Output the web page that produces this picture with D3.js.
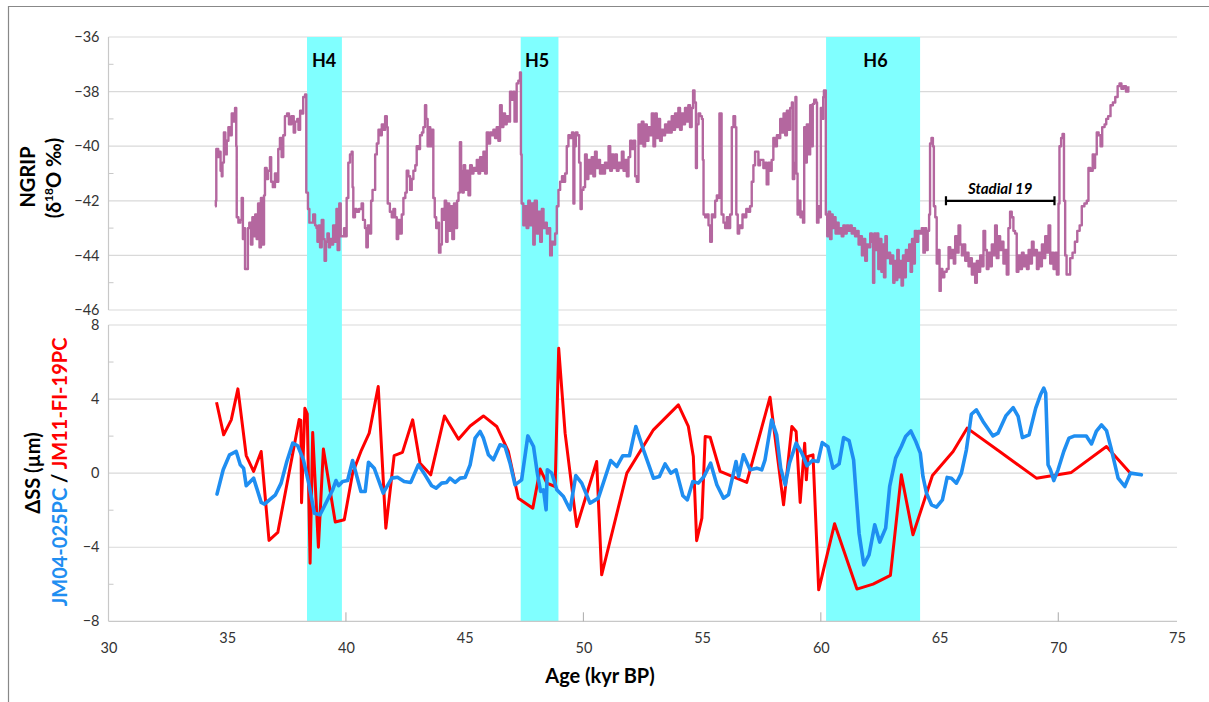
<!DOCTYPE html>
<html><head><meta charset="utf-8">
<script src="https://cdn.jsdelivr.net/npm/d3@7"></script>
<style>
body{margin:0;background:#fff}
svg{display:block;font-family:Lato,"Open Sans",sans-serif}
</style>
</head><body>
<svg id="chart" width="1209" height="702"></svg>
<script>
// ---------- data ----------
const xTickValues = [30,35,40,45,50,55,60,65,70,75];
const xMajorMarks = [40,50,60,70];
const topTickValues = [-36,-38,-40,-42,-44,-46];
const topMinorValues = [-37,-39,-41,-43,-45];
const botTickValues = [8,4,0,-4,-8];
const botMinorValues = [6,2,-2,-6];

const heinrichNames = ["H4","H5","H6"];
const heinrichStart = [38.36,47.36,60.22];
const heinrichEnd = [39.83,48.95,64.18];
const heinrichLabelAge = [39.08,48.05,62.3];

const stadialName = "Stadial 19";
const stadialRange = [65.27,69.84];
const stadialLevel = -42.0;

// NGRIP δ18O (‰) [age kyr BP, value]
const ngrip = [
[34.49,-42.2],[34.52,-42.0],[34.54,-40.1],[34.62,-40.4],[34.68,-40.2],[34.72,-40.9],[34.77,-41.1],[34.80,-40.6],[34.86,-39.5],[34.92,-40.3],[34.98,-39.8],[35.05,-39.3],[35.12,-39.6],[35.19,-38.8],[35.26,-39.1],[35.33,-38.6],[35.38,-40.0],[35.40,-42.6],[35.47,-42.8],[35.55,-42.7],[35.61,-41.9],[35.66,-43.4],[35.72,-43.0],[35.75,-44.5],[35.84,-44.5],[35.87,-43.0],[35.93,-42.8],[36.0,-43.6],[36.06,-42.6],[36.12,-43.3],[36.18,-42.5],[36.24,-43.4],[36.30,-42.1],[36.36,-43.7],[36.42,-41.9],[36.50,-43.6],[36.55,-41.8],[36.59,-40.8],[36.66,-41.2],[36.72,-40.9],[36.80,-40.4],[36.85,-41.3],[36.92,-41.5],[37.01,-41.0],[37.08,-41.3],[37.15,-40.1],[37.22,-39.7],[37.29,-40.4],[37.36,-39.6],[37.43,-38.9],[37.52,-38.8],[37.6,-39.2],[37.7,-38.9],[37.8,-39.5],[37.86,-39.1],[37.95,-39.0],[38.0,-39.4],[38.07,-38.7],[38.14,-38.8],[38.2,-38.2],[38.28,-38.1],[38.33,-41.7],[38.40,-42.3],[38.46,-42.8],[38.55,-42.8],[38.62,-42.5],[38.70,-42.9],[38.76,-43.0],[38.80,-43.5],[38.86,-42.9],[38.91,-43.7],[38.98,-42.7],[39.05,-43.4],[39.1,-44.2],[39.16,-43.5],[39.22,-43.2],[39.28,-43.7],[39.33,-43.4],[39.40,-43.6],[39.46,-42.9],[39.54,-43.5],[39.60,-42.3],[39.65,-43.8],[39.72,-42.1],[39.78,-43.3],[39.85,-43.3],[39.92,-43.0],[39.97,-43.3],[40.03,-41.9],[40.10,-40.6],[40.17,-40.3],[40.24,-40.2],[40.28,-41.5],[40.31,-42.6],[40.38,-42.3],[40.45,-42.4],[40.55,-42.3],[40.66,-42.1],[40.72,-42.7],[40.80,-43.0],[40.86,-43.7],[40.92,-42.9],[41.01,-43.2],[41.06,-42.0],[41.12,-41.6],[41.23,-40.3],[41.30,-39.9],[41.37,-39.4],[41.45,-39.6],[41.51,-39.2],[41.58,-39.4],[41.65,-38.9],[41.72,-39.3],[41.76,-42.1],[41.85,-42.4],[41.93,-42.6],[42.0,-42.3],
[42.07,-42.6],[42.14,-43.4],[42.2,-42.7],[42.28,-43.2],[42.35,-42.5],[42.42,-41.9],[42.5,-41.7],[42.56,-40.9],[42.63,-41.1],[42.7,-41.6],[42.77,-41.2],[42.84,-40.9],[42.92,-40.7],[42.98,-40.0],[43.05,-40.1],[43.12,-39.6],[43.2,-39.5],[43.26,-39.3],[43.33,-38.5],[43.38,-39.0],[43.44,-40.0],[43.5,-39.3],[43.55,-40.0],[43.62,-39.4],[43.68,-41.9],[43.74,-42.6],[43.80,-43.0],[43.86,-42.8],[43.92,-43.9],[43.98,-43.6],[44.04,-42.3],[44.1,-42.7],[44.16,-42.0],[44.22,-43.5],[44.28,-42.1],[44.35,-43.1],[44.42,-42.2],[44.48,-43.4],[44.55,-42.1],[44.62,-43.0],[44.68,-42.0],[44.74,-41.7],[44.80,-39.85],[44.85,-40.9],[44.90,-41.7],[44.96,-40.7],[45.02,-41.6],[45.09,-40.9],[45.16,-41.8],[45.23,-40.7],[45.30,-41.0],[45.37,-40.8],[45.44,-40.9],[45.51,-40.5],[45.58,-41.0],[45.65,-40.4],[45.72,-40.9],[45.79,-40.2],[45.86,-41.0],[45.93,-39.5],[46.0,-39.9],[46.07,-39.5],[46.14,-39.6],[46.21,-39.4],[46.28,-39.7],[46.35,-39.3],[46.42,-39.8],[46.49,-38.5],[46.56,-39.3],[46.63,-38.8],[46.70,-39.2],[46.77,-38.9],[46.84,-39.1],[46.91,-38.0],[46.98,-38.3],[47.05,-38.0],[47.1,-39.1],[47.19,-37.7],[47.26,-37.6],[47.33,-37.3],[47.37,-40.3],[47.40,-42.1],[47.47,-42.9],[47.54,-42.2],[47.61,-43.0],[47.68,-42.0],[47.75,-42.9],[47.82,-42.1],[47.89,-43.6],[47.95,-42.0],[48.04,-43.2],[48.1,-42.4],[48.18,-43.5],[48.25,-42.3],[48.32,-43.0],[48.4,-42.8],[48.46,-43.2],[48.53,-43.0],[48.6,-44.0],[48.67,-43.5],[48.74,-43.6],[48.81,-43.2],[48.88,-42.2],[48.95,-41.6],[49.02,-41.3],[49.1,-41.1],[49.16,-41.3],[49.23,-41.0],[49.3,-40.0],[49.37,-39.6],[49.44,-39.7],[49.52,-39.5],[49.58,-42.1],[49.62,-40.0],[49.68,-39.5],[49.75,-39.6],[49.82,-40.6],[49.88,-42.3],[49.93,-41.6],[50.0,-41.5],
[50.07,-40.3],[50.14,-41.2],[50.21,-40.5],[50.28,-41.0],[50.35,-40.4],[50.42,-41.1],[50.49,-40.2],[50.56,-40.8],[50.63,-40.5],[50.7,-41.0],[50.77,-40.7],[50.84,-41.0],[50.91,-40.6],[50.98,-40.8],[51.06,-40.0],[51.13,-40.9],[51.2,-40.3],[51.27,-40.8],[51.34,-40.3],[51.41,-40.9],[51.48,-40.6],[51.55,-40.8],[51.62,-40.2],[51.69,-40.9],[51.76,-40.5],[51.83,-41.1],[51.9,-40.4],[51.97,-39.8],[52.04,-40.1],[52.12,-39.8],[52.18,-41.1],[52.25,-41.3],[52.32,-39.2],[52.39,-39.9],[52.46,-39.1],[52.53,-40.0],[52.6,-39.2],[52.67,-39.8],[52.74,-39.3],[52.81,-39.6],[52.88,-38.8],[52.95,-40.0],[53.02,-38.8],[53.09,-39.7],[53.16,-39.0],[53.23,-39.8],[53.3,-39.4],[53.37,-39.6],[53.44,-39.2],[53.51,-39.5],[53.58,-39.1],[53.65,-39.5],[53.72,-38.9],[53.79,-39.4],[53.86,-38.8],[53.93,-39.3],[54.0,-38.6],[54.07,-39.4],[54.14,-38.8],[54.21,-39.2],[54.28,-38.6],[54.35,-39.1],[54.42,-38.5],[54.49,-39.3],[54.56,-38.6],[54.62,-37.96],[54.68,-38.4],[54.74,-40.8],[54.78,-39.2],[54.85,-38.8],[54.92,-38.9],[54.99,-39.0],[55.03,-40.5],[55.06,-42.5],[55.13,-42.6],[55.2,-42.5],[55.27,-42.9],[55.34,-43.5],[55.41,-42.5],[55.48,-42.6],[55.55,-42.0],[55.62,-41.8],[55.7,-41.9],[55.73,-38.8],[55.79,-38.8],[55.82,-42.5],[55.9,-42.8],[55.97,-43.0],[56.04,-42.6],[56.1,-43.0],[56.18,-42.5],[56.25,-39.3],[56.32,-38.9],[56.39,-39.3],[56.44,-42.5],[56.5,-43.2],[56.56,-42.9],[56.64,-43.0],[56.7,-42.5],[56.78,-42.6],[56.86,-42.3],[56.95,-42.4],[57.02,-42.2],[57.09,-41.3],[57.16,-40.7],[57.23,-40.2],[57.3,-40.2],[57.37,-40.7],[57.44,-40.5],
[57.5,-40.5],[57.58,-40.8],[57.65,-40.6],[57.72,-41.4],[57.79,-40.6],[57.86,-40.9],[57.93,-40.5],[58.0,-39.7],[58.08,-40.0],[58.15,-39.6],[58.22,-39.7],[58.29,-39.0],[58.36,-39.5],[58.43,-38.8],[58.5,-39.6],[58.57,-38.7],[58.64,-39.4],[58.71,-38.6],[58.78,-38.4],[58.82,-41.2],[58.88,-40.6],[58.93,-38.2],[58.97,-41.0],[59.02,-42.5],[59.08,-42.0],[59.14,-42.6],[59.2,-42.4],[59.25,-42.8],[59.3,-39.3],[59.36,-40.6],[59.41,-39.2],[59.48,-40.3],[59.55,-38.5],[59.6,-40.0],[59.66,-38.45],[59.72,-38.3],[59.8,-38.4],[59.84,-42.8],[59.9,-42.2],[59.96,-42.6],[60.0,-38.6],[60.06,-39.0],[60.1,-38.2],[60.13,-37.96],[60.18,-37.96],[60.21,-42.5],[60.27,-43.3],[60.33,-42.4],[60.39,-43.4],[60.45,-42.5],[60.5,-43.0],[60.56,-42.6],[60.62,-43.2],[60.68,-42.8],[60.75,-43.2],[60.81,-43.0],[60.88,-43.3],[60.95,-42.9],[61.02,-43.2],[61.09,-42.9],[61.16,-43.1],[61.23,-42.9],[61.3,-43.2],[61.37,-43.0],[61.44,-43.3],[61.52,-43.1],[61.59,-43.6],[61.66,-43.3],[61.73,-44.0],[61.8,-43.4],[61.87,-44.2],[61.94,-43.6],[62.01,-43.7],[62.08,-43.2],[62.15,-43.5],[62.2,-45.0],[62.25,-43.2],[62.3,-43.8],[62.36,-43.2],[62.42,-44.5],[62.48,-43.4],[62.55,-44.6],[62.6,-43.6],[62.66,-44.8],[62.72,-43.3],[62.78,-44.1],[62.85,-43.9],[62.92,-44.3],[62.98,-44.0],[63.05,-45.0],[63.1,-44.2],[63.16,-44.9],[63.22,-43.8],[63.28,-44.8],[63.34,-44.2],[63.4,-45.1],[63.46,-44.0],[63.52,-44.8],[63.58,-43.8],[63.65,-44.2],[63.72,-43.6],[63.78,-44.6],[63.84,-43.4],[63.9,-44.3],[63.96,-43.1],[64.03,-43.5],[64.1,-43.1],[64.18,-43.2],[64.25,-43.0],[64.32,-43.9],[64.38,-43.0],[64.44,-43.8],[64.5,-43.1],[64.56,-42.5],[64.6,-39.9],[64.66,-39.7],[64.72,-40.0],[64.76,-42.2],[64.82,-42.6],[64.88,-44.3],[64.95,-43.8],[65.0,-45.3],[65.05,-44.5],[65.12,-44.8],[65.2,-44.6],
[65.3,-44.5],[65.38,-43.7],[65.45,-44.1],[65.52,-43.8],[65.6,-44.3],[65.66,-43.3],[65.73,-43.9],[65.8,-42.9],[65.87,-43.6],[65.94,-44.0],[66.0,-43.6],[66.08,-44.2],[66.15,-43.9],[66.22,-44.4],[66.3,-44.1],[66.36,-44.7],[66.43,-44.3],[66.5,-45.0],[66.57,-44.2],[66.64,-44.6],[66.71,-44.0],[66.78,-44.4],[66.85,-43.1],[66.92,-43.8],[66.99,-44.5],[67.06,-43.9],[67.13,-44.4],[67.2,-43.6],[67.27,-44.0],[67.34,-42.9],[67.41,-44.1],[67.48,-43.3],[67.55,-43.8],[67.62,-43.5],[67.69,-44.3],[67.76,-43.8],[67.83,-44.7],[67.9,-43.0],[67.97,-42.4],[68.04,-42.6],[68.11,-43.1],[68.18,-43.2],[68.25,-44.6],[68.32,-44.0],[68.4,-44.5],[68.47,-43.9],[68.54,-44.4],[68.61,-44.0],[68.68,-44.5],[68.75,-43.8],[68.82,-44.3],[68.89,-43.5],[68.96,-44.0],[69.03,-43.8],[69.1,-44.5],[69.17,-43.9],[69.24,-44.4],[69.31,-43.6],[69.38,-44.1],[69.45,-43.3],[69.52,-43.9],[69.59,-42.9],[69.66,-44.3],[69.73,-43.9],[69.8,-44.5],[69.87,-43.9],[69.94,-44.7],[70.01,-42.1],[70.05,-40.0],[70.12,-39.7],[70.18,-39.55],[70.24,-42.0],[70.29,-44.0],[70.35,-44.7],[70.43,-44.7],[70.5,-44.1],[70.6,-43.9],[70.7,-43.5],[70.8,-43.1],[70.9,-42.9],[70.99,-42.2],[71.1,-42.1],[71.2,-42.0],[71.27,-40.8],[71.35,-40.9],[71.45,-40.3],[71.5,-40.8],[71.55,-40.3],[71.62,-39.5],[71.7,-39.6],[71.78,-40.0],[71.85,-39.3],[71.95,-39.2],[72.02,-39.0],[72.1,-38.9],[72.2,-38.5],[72.3,-38.4],[72.4,-38.2],[72.5,-37.8],[72.58,-37.7],[72.66,-37.9],[72.75,-37.8],[72.85,-38.0],[72.95,-37.8]
];

// JM04-025PC ΔSS (µm)
const jm04 = [
[34.57,-1.13],[34.83,0.18],[35.1,0.99],[35.38,1.17],[35.55,0.45],[35.69,0.27],[35.8,-0.68],[36.11,-0.27],[36.43,-1.58],[36.57,-1.67],[36.78,-1.44],[37.03,-1.17],[37.27,-0.54],[37.51,0.63],[37.76,1.62],[37.97,1.48],[38.21,0.72],[38.43,-0.54],[38.67,-2.16],[38.91,-2.25],[39.19,-1.53],[39.44,-0.9],[39.58,-0.4],[39.69,-0.68],[39.86,-0.45],[40.07,-0.4],[40.28,0.68],[40.63,-0.99],[40.81,-0.99],[40.95,0.59],[41.19,0.27],[41.57,-1.08],[41.93,-0.27],[42.17,-0.22],[42.45,-0.45],[42.73,-0.5],[43.05,0.45],[43.33,-0.09],[43.61,-0.68],[43.8,-0.81],[44.03,-0.54],[44.24,-0.5],[44.38,-0.27],[44.6,-0.5],[44.81,-0.27],[45.02,-0.23],[45.23,0.45],[45.44,1.89],[45.65,2.25],[45.79,1.89],[46.0,0.99],[46.21,0.72],[46.49,1.53],[46.7,1.44],[46.91,0.54],[47.12,-0.63],[47.4,-0.36],[47.66,2.01],[47.9,1.44],[48.06,0],[48.2,-0.99],[48.32,-0.9],[48.43,-1.98],[48.48,0.18],[48.67,0],[48.88,-0.9],[49.16,-1.26],[49.44,-1.98],[49.68,-0.13],[49.93,-0.54],[50.28,-1.62],[50.63,-1.35],[51.15,0.68],[51.41,0.36],[51.66,0.94],[51.94,0.94],[52.21,2.52],[52.53,1.26],[52.95,-0.27],[53.2,-0.18],[53.44,0.5],[53.68,0],[53.9,0.18],[54.19,-1.22],[54.38,-1.44],[54.61,-0.45],[54.84,-0.54],[55.08,-0.18],[55.36,0.54],[55.62,-0.63],[55.9,-1.35],[56.11,-1.17],[56.29,-0.18],[56.43,0.63],[56.54,-0.18],[56.74,0.99],[57.02,0.18],[57.3,0.27],[57.51,0.18],[57.65,0.72],[57.93,2.88],[58.14,2.07],[58.31,0.27],[58.5,-0.63],[58.68,0.54],[58.96,1.62],[59.2,1.08],[59.42,0.4],[59.64,0.68],[59.88,0.63],[60.06,1.65],[60.3,1.43],[60.51,0.27],[60.77,0.5],[60.96,1.92],[61.19,1.76],[61.38,0.72],[61.61,-3.24],[61.81,-4.95],[62.03,-4.41],[62.27,-2.79],[62.48,-3.72],[62.73,-2.97],[62.9,-0.72],[63.15,0.81],[63.39,1.44],[63.57,1.98],[63.79,2.28],[64.0,1.71],[64.19,1.08],[64.3,-0.18],[64.45,-1.08],[64.66,-1.71],[64.87,-1.83],[65.12,-1.44],[65.32,-0.23],[65.5,-0.27],[65.71,-0.54],[65.92,0],[66.13,1.26],[66.34,3.18],[66.55,3.42],[66.83,2.79],[67.25,2.01],[67.46,2.16],[67.79,3.09],[68.1,3.54],[68.31,3.06],[68.49,1.92],[68.77,2.07],[69.05,3.51],[69.25,4.23],[69.39,4.59],[69.47,4.32],[69.57,0.45],[69.67,0.18],[69.81,-0.4],[69.99,0.18],[70.23,1.17],[70.45,1.89],[70.69,2.01],[71.18,2.01],[71.4,1.58],[71.6,2.25],[71.82,2.61],[72.03,2.3],[72.24,1.26],[72.52,-0.27],[72.8,-0.72],[73.04,0],[73.5,-0.09]
];

// JM11-FI-19PC ΔSS (µm)
const jm11 = [
[34.55,3.83],[34.85,2.07],[35.17,2.88],[35.45,4.55],[35.8,0.95],[36.11,0.09],[36.43,1.17],[36.76,-3.63],[37.13,-3.2],[38.03,2.9],[38.1,2.85],[38.13,-1.6],[38.27,3.5],[38.37,3.2],[38.49,-4.86],[38.6,2.19],[38.84,-4.0],[39.05,1.3],[39.55,-2.64],[39.93,-2.52],[40.28,0],[40.63,1.17],[40.98,2.16],[41.36,4.68],[41.68,-2.97],[42.03,0.95],[42.38,1.12],[42.81,2.88],[43.12,0.54],[43.57,-0.09],[44.15,3.09],[44.74,1.83],[45.23,2.55],[45.79,3.09],[46.35,2.52],[46.84,1.17],[47.26,-1.35],[47.87,-1.89],[48.18,0.22],[48.46,-0.54],[48.81,-0.72],[48.96,6.74],[49.23,2.16],[49.72,-2.88],[50.56,0.63],[50.77,-5.49],[51.83,0],[52.95,2.34],[54.0,3.69],[54.42,2.52],[54.63,0.9],[54.77,-3.65],[54.99,-2.43],[55.13,1.98],[55.34,1.94],[55.76,0.09],[56.88,-0.5],[57.86,4.1],[58.43,-1.71],[58.78,2.52],[58.96,2.25],[59.13,-1.58],[59.32,1.62],[59.39,-0.36],[59.46,0.9],[59.67,0.99],[59.91,-6.3],[60.58,-2.73],[61.52,-6.26],[62.2,-5.99],[62.93,-5.52],[63.39,-0.09],[63.88,-3.33],[64.7,-0.13],[65.57,1.17],[66.16,2.43],[67.53,1.17],[69.08,-0.27],[70.55,0.04],[72.03,1.44],[73.01,0.04]
];

// ---------- drawing ----------
const svg = d3.select("#chart");
const x = d3.scaleLinear().domain([30,75]).range([108.5,1177]);
const yTop = d3.scaleLinear().domain([-46,-36]).range([310,37]);
const yBot = d3.scaleLinear().domain([-8,8]).range([621.3,325]);
const gridCol = "#d9d9d9", axisCol = "#c8c8c8", labelCol = "#333";

// outer frame
svg.append("path").attr("d","M8.5,702 V6.5 H1209").attr("fill","none").attr("stroke","#888").attr("stroke-width",1.2);

// grid lines
const grid = svg.append("g");
grid.selectAll(".gt").data(topTickValues).join("line")
  .attr("x1",x(30)).attr("x2",x(75)).attr("y1",d=>yTop(d)).attr("y2",d=>yTop(d))
  .attr("stroke",gridCol).attr("stroke-width",1.2);
grid.selectAll(".gb").data(botTickValues.filter(d=>d!==-8)).join("line")
  .attr("x1",x(30)).attr("x2",x(75)).attr("y1",d=>yBot(d)).attr("y2",d=>yBot(d))
  .attr("stroke",gridCol).attr("stroke-width",1.2);

// Heinrich bands
const bands = heinrichNames.map((n,i)=>({name:n,s:heinrichStart[i],e:heinrichEnd[i],lab:heinrichLabelAge[i]}));
svg.append("g").selectAll("rect").data(bands).join("rect")
  .attr("x",d=>x(d.s)).attr("width",d=>x(d.e)-x(d.s))
  .attr("y",yTop(-36)).attr("height",yBot(-8)-yTop(-36))
  .attr("fill","#80ffff");

// axes lines
svg.append("line").attr("x1",x(30)).attr("x2",x(30)).attr("y1",yTop(-36)).attr("y2",yTop(-46)).attr("stroke",axisCol).attr("stroke-width",1.2);
svg.append("line").attr("x1",x(30)).attr("x2",x(30)).attr("y1",yBot(8)).attr("y2",yBot(-8)).attr("stroke",axisCol).attr("stroke-width",1.2);
svg.append("line").attr("x1",x(30)).attr("x2",x(75)).attr("y1",yBot(-8)).attr("y2",yBot(-8)).attr("stroke",axisCol).attr("stroke-width",1.2);

// minor ticks
svg.append("g").selectAll("line").data(topMinorValues).join("line")
  .attr("x1",x(30)).attr("x2",x(30)+5).attr("y1",d=>yTop(d)).attr("y2",d=>yTop(d)).attr("stroke",axisCol);
svg.append("g").selectAll("line").data(botMinorValues).join("line")
  .attr("x1",x(30)).attr("x2",x(30)+5).attr("y1",d=>yBot(d)).attr("y2",d=>yBot(d)).attr("stroke",axisCol);
svg.append("g").selectAll("line").data(xMajorMarks).join("line")
  .attr("x1",d=>x(d)).attr("x2",d=>x(d)).attr("y1",yBot(-8)-9).attr("y2",yBot(-8)).attr("stroke","#aaa");

// axis labels via d3 axes
function styleAxis(g){
  g.select(".domain").remove();
  g.selectAll(".tick line").remove();
  g.selectAll("text").attr("fill",labelCol).attr("font-size",14.5).attr("font-family","Lato, 'Open Sans', sans-serif");
}
svg.append("g").attr("transform",`translate(${x(30)},0)`)
  .call(d3.axisLeft(yTop).tickValues(topTickValues).tickSize(0).tickPadding(9).tickFormat(d3.format("d")))
  .call(styleAxis);
svg.append("g").attr("transform",`translate(${x(30)},0)`)
  .call(d3.axisLeft(yBot).tickValues(botTickValues).tickSize(0).tickPadding(9).tickFormat(d3.format("d")))
  .call(styleAxis);
const xAx = svg.append("g").attr("transform",`translate(0,${yBot(-8)})`)
  .call(d3.axisBottom(x).tickValues(xTickValues).tickSize(0).tickFormat(d3.format("d")))
  .call(styleAxis);
xAx.selectAll("text").attr("dy","0.35em").attr("y",d=>d%10===0?26.5:16.5);

// series
svg.append("path").datum(ngrip)
  .attr("d",d3.line().x(d=>x(d[0])).y(d=>yTop(d[1])).curve(d3.curveStepAfter))
  .attr("fill","none").attr("stroke","#b4679f").attr("stroke-width",2.4).attr("stroke-linejoin","round");
svg.append("path").datum(jm11)
  .attr("d",d3.line().x(d=>x(d[0])).y(d=>yBot(d[1])))
  .attr("fill","none").attr("stroke","#ff0000").attr("stroke-width",3).attr("stroke-linejoin","round");
svg.append("path").datum(jm04)
  .attr("d",d3.line().x(d=>x(d[0])).y(d=>yBot(d[1])))
  .attr("fill","none").attr("stroke","#1f8ef1").attr("stroke-width",3.6).attr("stroke-linejoin","round").attr("stroke-linecap","round");

// Heinrich labels
svg.append("g").selectAll("text").data(bands).join("text")
  .attr("x",d=>x(d.lab)).attr("y",66.5).attr("text-anchor","middle")
  .attr("font-size",18).attr("font-weight","bold").attr("fill","#000").text(d=>d.name);

// Stadial 19 bracket
const sy = yTop(stadialLevel);
svg.append("path")
  .attr("d",`M${x(stadialRange[0])},${sy-4.5}V${sy+4.5}M${x(stadialRange[0])},${sy}H${x(stadialRange[1])}M${x(stadialRange[1])},${sy-4.5}V${sy+4.5}`)
  .attr("stroke","#000").attr("stroke-width",2.2).attr("fill","none");
svg.append("text").attr("x",x((stadialRange[0]+stadialRange[1])/2)).attr("y",sy-7)
  .attr("text-anchor","middle").attr("font-size",15).attr("font-weight","bold").attr("font-style","italic").text(stadialName);

// titles
svg.append("text").attr("x",600).attr("y",683).attr("text-anchor","middle")
  .attr("font-size",20).attr("font-weight","bold").attr("fill","#000").text("Age (kyr BP)");

svg.append("text").attr("transform","translate(35,177) rotate(-90)").attr("text-anchor","middle")
  .attr("font-size",20).attr("font-weight","bold").text("NGRIP");
const t2 = svg.append("text").attr("transform","translate(61,178) rotate(-90)").attr("text-anchor","middle")
  .attr("font-size",20).attr("font-weight","bold");
t2.append("tspan").text("(δ");
t2.append("tspan").attr("font-size",12).attr("dy",-8).text("18");
t2.append("tspan").attr("dy",8).text("O ‰)");

svg.append("text").attr("transform","translate(40,473) rotate(-90)").attr("text-anchor","middle")
  .attr("font-size",20).attr("font-weight","bold").text("ΔSS (µm)");
const t4 = svg.append("text").attr("transform","translate(67,472) rotate(-90)").attr("text-anchor","middle")
  .attr("font-size",20).attr("font-weight","bold");
t4.append("tspan").attr("fill","#1f8ef1").text("JM04-025PC");
t4.append("tspan").attr("fill","#000").text(" / ");
t4.append("tspan").attr("fill","#ff0000").text("JM11-FI-19PC");
</script>
</body></html>
